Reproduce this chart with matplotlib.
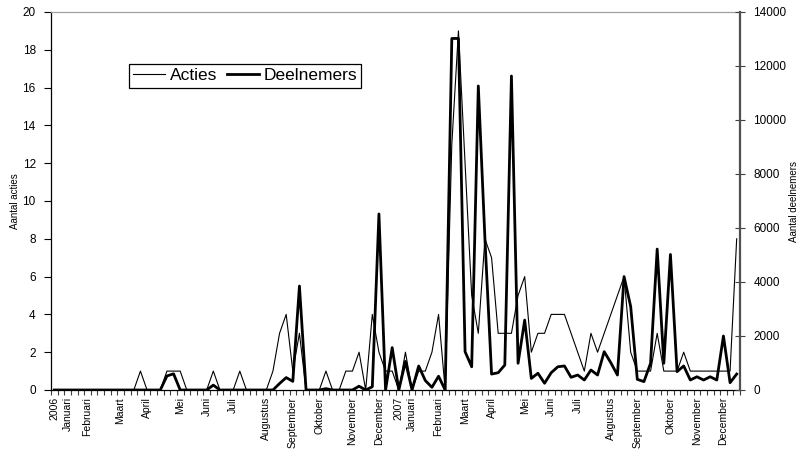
import numpy as np
import matplotlib
matplotlib.use('Agg')
import matplotlib.pyplot as plt
from matplotlib.lines import Line2D

plt.rcParams['font.family'] = ['Liberation Sans', 'DejaVu Sans']

# weekly values, 2006 - 2007 (104 weeks)
acties = [0, 0, 0, 0, 0, 0, 0, 0, 0, 0, 0, 0, 0, 1, 0, 0, 0, 1, 1, 1,
          0, 0, 0, 0, 1, 0, 0, 0, 1, 0, 0, 0, 0, 1, 3, 4, 1, 3, 0, 0,
          0, 1, 0, 0, 1, 1, 2, 0, 4, 2, 1, 1, 0, 2, 0, 1, 1, 2, 4, 0,
          13, 19, 12, 5, 3, 8, 7, 3, 3, 3, 5, 6, 2, 3, 3, 4, 4, 4, 3, 2,
          1, 3, 2, 3, 4, 5, 6, 2, 1, 1, 1, 3, 1, 1, 1, 2, 1, 1, 1, 1,
          1, 1, 1, 8]

deelnemers = [0, 0, 0, 0, 0, 0, 0, 0, 0, 0, 0, 0, 0, 0, 0, 0, 0, 520, 600, 0,
              0, 0, 0, 0, 180, 0, 0, 0, 0, 0, 0, 0, 0, 0, 240, 460, 320, 3850, 0, 0,
              0, 50, 0, 0, 0, 0, 140, 0, 120, 6520, 0, 1570, 0, 1060, 0, 890, 350, 100, 510, 0,
              13020, 13020, 1420, 860, 11260, 5600, 590, 640, 925, 11630, 990, 2590, 430, 620, 250, 640, 860, 890, 470, 555,
              370, 740, 555, 1420, 1010, 555, 4200, 3090, 395, 310, 990, 5220, 990, 5020, 680, 890, 370, 490, 370, 490,
              370, 2000, 270, 590]

# month labels and the week where they are shown
maand_labels = ['2006', 'Januari', 'Februari', 'Maart', 'April', 'Mei', 'Juni', 'Juli',
                'Augustus', 'September', 'Oktober', 'November', 'December',
                '2007', 'Januari', 'Februari', 'Maart', 'April', 'Mei', 'Juni', 'Juli',
                'Augustus', 'September', 'Oktober', 'November', 'December']
maand_pos = [0, 2, 5, 10, 14, 19, 23, 27, 32, 36, 40, 45, 49,
             52, 54, 58, 62, 66, 71, 75, 79, 84, 88, 93, 97, 101]

weken = np.arange(len(acties))

fig = plt.figure(figsize=(8.06, 4.54), dpi=100)
ax = fig.add_axes([51 / 806, 64 / 454, 689 / 806, 378 / 454])
ax2 = ax.twinx()

ax.plot(weken, acties, color='black', lw=0.8)
ax2.plot(weken, deelnemers, color='black', lw=2.0)

ax.set_xlim(-0.5, len(acties) - 0.5)
ax.set_ylim(0, 20)
ax2.set_ylim(0, 14000)

ax.set_yticks(np.arange(0, 21, 2))
ax2.set_yticks(np.arange(0, 14001, 2000))

# tick marks between weeks, labels on the weeks
ax.set_xticks(np.arange(-0.5, len(acties), 1.0))
ax.set_xticklabels([])
ax.set_xticks(maand_pos, maand_labels, minor=True)
ax.tick_params(axis='x', which='major', length=3.5, width=0.8, color='#404040', direction='out')
ax.tick_params(axis='x', which='minor', length=0, pad=5, labelsize=7.5, labelrotation=90)

ax.tick_params(axis='y', length=5, width=0.8, direction='out', labelsize=8.5, pad=6)
ax2.tick_params(axis='y', length=7, width=0.8, direction='inout', labelsize=8.5, pad=6,
                color='#404040')

for s in ['left', 'bottom']:
    ax.spines[s].set_color('black')
    ax.spines[s].set_linewidth(0.9)
ax.spines['top'].set_color('#a0a0a0')
ax.spines['top'].set_linewidth(0.9)
ax.spines['right'].set_visible(False)
for s in ['left', 'bottom', 'top']:
    ax2.spines[s].set_visible(False)
ax2.spines['right'].set_color('#505050')
ax2.spines['right'].set_linewidth(1.6)

ax.set_ylabel('Aantal acties', fontsize=7, labelpad=2)
ax2.set_ylabel('Aantal deelnemers', fontsize=7, labelpad=2)

handles = [Line2D([], [], color='black', lw=0.8), Line2D([], [], color='black', lw=2.0)]
leg = ax2.legend(handles, ['Acties', 'Deelnemers'], ncol=2, loc='upper left',
                 bbox_to_anchor=(129 / 806, 1 - 64 / 454), bbox_transform=fig.transFigure,
                 borderaxespad=0, fontsize=12.5, handlelength=1.85, handletextpad=0.25,
                 columnspacing=0.55, borderpad=0.25, fancybox=False, framealpha=1)
leg.get_frame().set_edgecolor('black')
leg.get_frame().set_linewidth(0.9)

fig.savefig('out.png', dpi=100)
